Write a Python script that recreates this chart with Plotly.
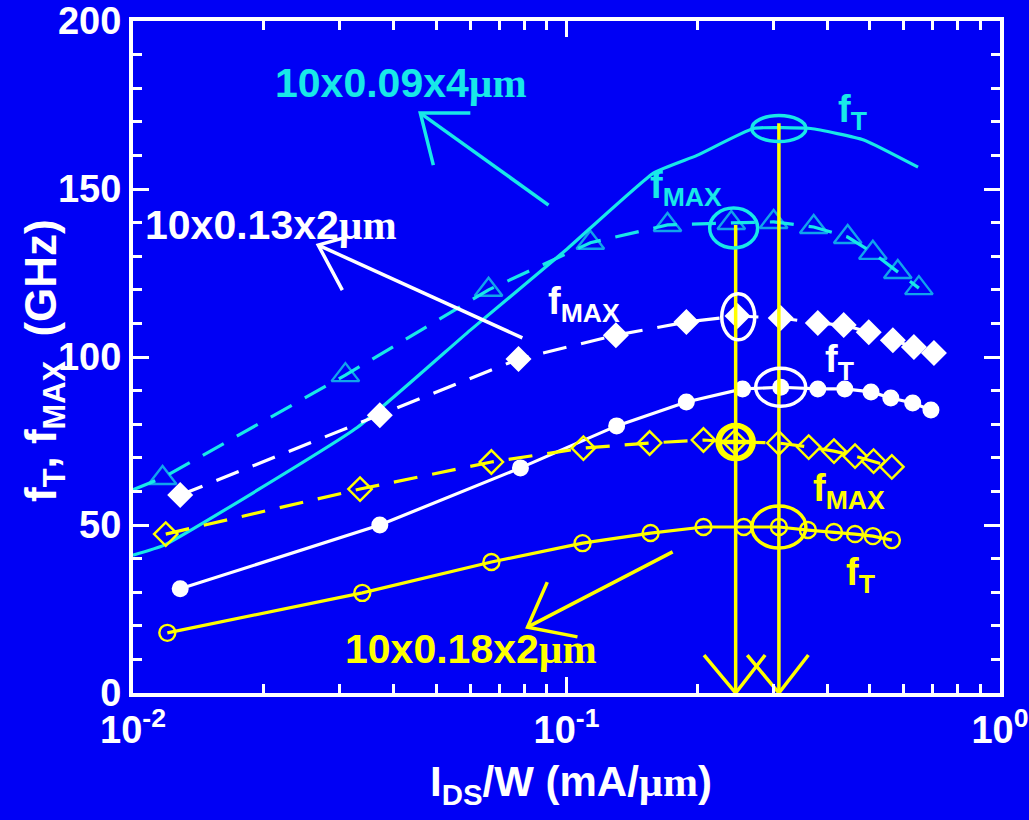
import plotly.graph_objects as go
import math

# ---------------- data ----------------
# 10x0.09x4um device (cyan)
ft_009_x = [0.0100, 0.0118, 0.0329, 0.060, 0.100, 0.159, 0.200, 0.270, 0.366, 0.485, 0.647]
ft_009_y = [41, 44, 79, 108, 132, 154.8, 160, 168, 168, 164.6, 156.5]
fmax_009_x = [0.0100, 0.0117, 0.0309, 0.0661, 0.1135, 0.171, 0.240, 0.3005, 0.3718, 0.4453, 0.509, 0.581, 0.650]
fmax_009_y = [60.5, 64, 94.6, 120, 134, 139.3, 139.9, 140.2, 138.7, 135.7, 131, 125.3, 120.5]

# 10x0.13x2um device (white)
ft_013_x = [0.01285, 0.0371, 0.0783, 0.1305, 0.189, 0.2548, 0.312, 0.380, 0.4385, 0.504, 0.560, 0.629, 0.693]
ft_013_y = [31, 50, 67, 79.5, 86.6, 90.5, 91, 90.5, 90.5, 89.6, 87.8, 86.3, 84.2]
fmax_013_x = [0.01285, 0.0371, 0.0775, 0.130, 0.189, 0.248, 0.312, 0.380, 0.436, 0.498, 0.566, 0.633, 0.704]
fmax_013_y = [58.9, 82.7, 99.4, 106.5, 110.4, 112.2, 111.6, 110.1, 109.5, 107.4, 105, 103, 101.2]

# 10x0.18x2um device (yellow)
ft_018_x = [0.0120, 0.0338, 0.0671, 0.1089, 0.1563, 0.207, 0.2564, 0.309, 0.3605, 0.414, 0.463, 0.509, 0.563]
ft_018_y = [17.9, 29.8, 39, 44.6, 47.6, 49.4, 49.4, 49.4, 48.5, 47.9, 47.3, 46.7, 45.5]
fmax_018_x = [0.0119, 0.0334, 0.0671, 0.1094, 0.1555, 0.207, 0.2443, 0.309, 0.362, 0.414, 0.463, 0.511, 0.563]
fmax_018_y = [47.3, 60.7, 68.75, 72.9, 74.4, 75.3, 74.7, 74.4, 73.2, 72, 70.5, 69, 67.3]

# peak markers (vertical arrows) : x positions and top values
peak_x = [0.2456, 0.309]
peak_top = [139.3, 169.6]

# highlighted peaks (ellipses)
hl_x = [0.309, 0.243, 0.249, 0.312, 0.2456, 0.309]
hl_y = [168, 138.4, 112, 91, 74.7, 49.4]

x_ticks = [0.01, 0.1, 1]
x_ticktext = ["10<sup>-2</sup>", "10<sup>-1</sup>", "10<sup>0</sup>"]
y_ticks = [0, 50, 100, 150, 200]

# ---------------- styling ----------------
BG = "#0000F5"
CYAN = "#18E8E8"
WHITE = "#FFFFFF"
YELLOW = "#FFFF00"
FONT = "Liberation Sans"
SERIF = "Liberation Serif"

L, R, T, B = 133, 29, 21, 127
W, H = 1029, 820
PW, PH = W - L - R, H - T - B
XMIN, XMAX, YMIN, YMAX = -2, 0, 0, 200


def px(xv):
    return (xv - L) / PW


def py(yv):
    return (H - B - yv) / PH


fig = go.Figure()


def line(x, y, color, dash="solid", width=3.2):
    fig.add_trace(go.Scatter(x=x, y=y, mode="lines", hoverinfo="skip",
                             line=dict(color=color, width=width, dash=dash)))


DASH = "24px,15px"
# series
fig.add_trace(go.Scatter(x=ft_009_x, y=ft_009_y, mode="lines",
                         line=dict(color=CYAN, width=3.2, shape="spline", smoothing=0.4)))
fig.add_trace(go.Scatter(x=fmax_009_x, y=fmax_009_y, mode="lines+markers",
                         line=dict(color=CYAN, width=3.2, dash=DASH),
                         marker=dict(symbol="triangle-up-open", size=[0] + [24] * (len(fmax_009_x) - 1),
                                     color=CYAN, line=dict(width=2.4, color=CYAN))))
fig.add_trace(go.Scatter(x=ft_013_x, y=ft_013_y, mode="lines+markers",
                         line=dict(color=WHITE, width=3.2),
                         marker=dict(symbol="circle", size=17, color=WHITE)))
fig.add_trace(go.Scatter(x=fmax_013_x, y=fmax_013_y, mode="lines+markers",
                         line=dict(color=WHITE, width=3.2, dash=DASH),
                         marker=dict(symbol="diamond", size=20, color=WHITE)))
fig.add_trace(go.Scatter(x=ft_018_x, y=ft_018_y, mode="lines+markers",
                         line=dict(color=YELLOW, width=3.2),
                         marker=dict(symbol="circle-open", size=16, color=YELLOW,
                                     line=dict(width=2.4, color=YELLOW))))
fig.add_trace(go.Scatter(x=fmax_018_x, y=fmax_018_y, mode="lines+markers",
                         line=dict(color=YELLOW, width=3.2, dash=DASH),
                         marker=dict(symbol="diamond-open", size=18, color=YELLOW,
                                     line=dict(width=2.4, color=YELLOW))))
# bold crosshair on yellow fMAX peak
fig.add_trace(go.Scatter(x=[hl_x[4]], y=[hl_y[4]], mode="markers", hoverinfo="skip",
                         marker=dict(symbol="circle-cross-open", size=32, color=YELLOW,
                                     line=dict(width=4.5, color=YELLOW))))

# vertical peak arrows
for xv, top in zip(peak_x, peak_top):
    line([xv, xv], [top, 0], YELLOW, width=3.5)
    lg = math.log10(xv)
    line([10 ** (lg - 0.073), xv, 10 ** (lg + 0.068)], [11.3, 0, 11.3], YELLOW, width=3.5)

# device label arrows (tail, tip, wings)
arrows = [
    (CYAN, (0.0909, 145.2), (0.0460, 172.6), (0.0600, 172.6), (0.0493, 157.1)),
    (WHITE, (0.0791, 105.7), (0.02675, 133.3), (0.0305, 135.4), (0.0304, 119.9)),
    (YELLOW, (0.1757, 42.0), (0.0813, 19.6), (0.0903, 33.0), (0.1060, 16.7)),
]
for c, tail, tip, w1, w2 in arrows:
    line([tail[0], tip[0]], [tail[1], tip[1]], c, width=3.5)
    line([w1[0], tip[0], w2[0]], [w1[1], tip[1], w2[1]], c, width=3.5)

# ellipses (placed in paper coordinates from the data position)
hl_color = [CYAN, CYAN, WHITE, WHITE, YELLOW, YELLOW]
hl_rx = [27, 24, 16.5, 25, 18, 27]
hl_ry = [13, 20, 23, 19, 17, 21]
hl_w = [3.5, 3.5, 3.5, 3.5, 4.5, 3.5]
shapes = []
for xv, yv, c, rx, ry, lw in zip(hl_x, hl_y, hl_color, hl_rx, hl_ry, hl_w):
    cx = (math.log10(xv) - XMIN) / (XMAX - XMIN)
    cy = (yv - YMIN) / (YMAX - YMIN)
    shapes.append(dict(type="circle", xref="paper", yref="paper",
                       x0=cx - rx / PW, x1=cx + rx / PW, y0=cy - ry / PH, y1=cy + ry / PH,
                       line=dict(color=c, width=lw)))

mu = '<span style="font-family:\'Liberation Serif\'">µm</span>'
annots = []


def txt(text, x, y, color, size=38, xanchor="left", yanchor="middle", angle=0):
    annots.append(dict(text=text, x=px(x), y=py(y), xref="paper", yref="paper",
                       xanchor=xanchor, yanchor=yanchor, showarrow=False, textangle=angle,
                       font=dict(family=FONT, size=size, color=color, weight="bold")))


txt("10x0.09x4" + mu, 273, 83, CYAN, size=41)
txt("10x0.13x2" + mu, 143, 225, WHITE, size=41)
txt("10x0.18x2" + mu, 343, 649, YELLOW, size=41)
txt("f<sub>T</sub>", 836, 112, CYAN)
txt("f<sub>MAX</sub>", 648, 188, CYAN)
txt("f<sub>MAX</sub>", 546, 304, WHITE)
txt("f<sub>T</sub>", 823, 362, WHITE)
txt("f<sub>MAX</sub>", 811, 491, YELLOW)
txt("f<sub>T</sub>", 844, 575, YELLOW)

# axis titles
txt("I<sub>DS</sub>/W (mA/" + mu + ")", 571, 784, WHITE, size=42, xanchor="center")
txt("f<sub>T</sub>, f<sub>MAX</sub>  (GHz)", 44, 361, WHITE, size=44, xanchor="center", angle=-90)

axis_common = dict(showline=True, linecolor=WHITE, linewidth=4, mirror="allticks",
                   ticks="inside", tickcolor=WHITE, tickwidth=2.5, ticklen=16,
                   showgrid=False, zeroline=False,
                   tickfont=dict(family=FONT, size=38, color=WHITE, weight="bold"))

minor_x = [m * 10 ** e for e in (-2, -1) for m in range(2, 10)]

fig.update_layout(
    width=W, height=H, showlegend=False,
    margin=dict(l=L, r=R, t=T, b=B, autoexpand=False),
    paper_bgcolor=BG, plot_bgcolor=BG,
    xaxis=dict(type="log", range=[XMIN, XMAX], tickmode="array", tickvals=x_ticks, ticktext=x_ticktext,
               minor=dict(ticks="inside", tickmode="array", tickvals=minor_x, ticklen=9,
                          tickcolor=WHITE, tickwidth=2.5, showgrid=False),
               **axis_common),
    yaxis=dict(range=[YMIN, YMAX], tickmode="array", tickvals=y_ticks,
               minor=dict(ticks="inside", dtick=10, ticklen=9, tickcolor=WHITE, tickwidth=2.5,
                          showgrid=False),
               **axis_common),
    shapes=shapes,
    annotations=annots,
)

fig.write_html(
    "out.html",
    config={"displayModeBar": False},
    post_script="document.body.style.margin='0';document.body.style.background='%s';"
                "document.documentElement.style.overflow='hidden';" % BG,
)
